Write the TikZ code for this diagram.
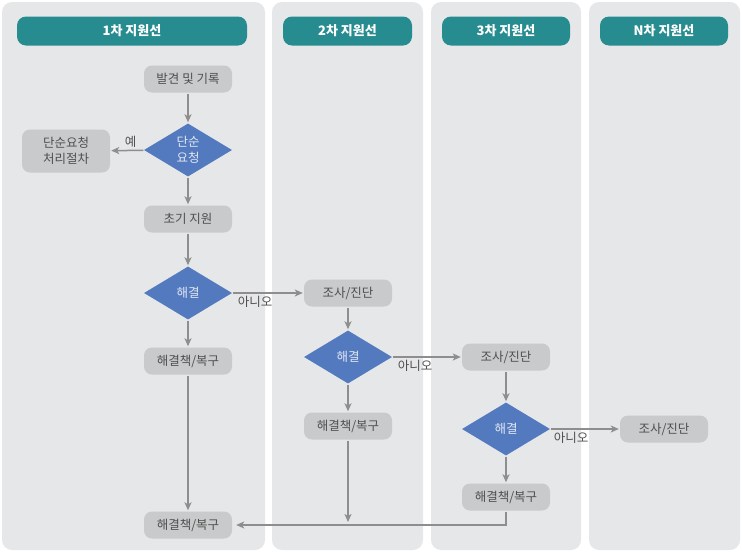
\documentclass[tikz,border=0pt]{standalone}
\usepackage{fontspec}
\setmainfont{Noto Sans CJK KR}
\usetikzlibrary{shapes.geometric,arrows.meta}
\definecolor{lanebg}{HTML}{E6E7E9}
\definecolor{headbg}{HTML}{278C90}
\definecolor{boxbg}{HTML}{C9CACB}
\definecolor{diabg}{HTML}{5379BF}
\definecolor{diatxt}{HTML}{E2E8F3}
\definecolor{txtgray}{HTML}{4F4F4F}
\definecolor{arrowgray}{HTML}{8E8E8E}
\begin{document}
\begin{tikzpicture}[x=1pt,y=-1pt,
    lane/.style={fill=lanebg, rounded corners=10pt},
    head/.style={fill=headbg, text=white, rounded corners=9pt, minimum height=29pt, inner sep=0pt, font=\fontsize{13}{15}\selectfont\bfseries},
    box/.style={fill=boxbg, text=txtgray, rounded corners=8pt, minimum width=88pt, minimum height=27pt, inner sep=0pt, align=center, font=\fontsize{12.5}{16}\selectfont},
    dia/.style={diamond, fill=diabg, text=diatxt, aspect=1.7, minimum width=88pt, minimum height=53pt, inner sep=0pt, align=center, font=\fontsize{12.5}{16}\selectfont},
    lbl/.style={text=txtgray, inner sep=2pt, font=\fontsize{12.5}{15}\selectfont},
    arr/.style={draw=arrowgray, line width=1.5pt, -{Stealth[length=8pt,width=7pt,inset=2pt]}, shorten >=1pt, shorten <=1pt}]
    \useasboundingbox (0,0) rectangle (742,552);

    \fill[lane] (2,2) rectangle (265,550);
    \fill[lane] (272,2) rectangle (423,550);
    \fill[lane] (431,2) rectangle (581,550);
    \fill[lane] (589,2) rectangle (740,550);

    \node[head, minimum width=230pt] (h1) at (132,31) {1차 지원선};
    \node[head, minimum width=129pt] (h2) at (347.5,31) {2차 지원선};
    \node[head, minimum width=128pt] (h3) at (506,31) {3차 지원선};
    \node[head, minimum width=128pt] (h4) at (664,31) {N차 지원선};

    \node[box] (find) at (188,79) {발견 및 기록};
    \node[dia] (simple) at (188,150) {단순\\요청};
    \node[box, minimum height=43pt] (simplebox) at (66,151) {단순요청\\처리절차};
    \node[box] (init) at (188,219) {초기 지원};
    \node[dia] (solve1) at (188,293) {해결};
    \node[box] (fix1) at (188,361) {해결책/복구};
    \node[box] (final) at (188,525) {해결책/복구};

    \node[box] (diag2) at (348,293) {조사/진단};
    \node[dia] (solve2) at (348,357) {해결};
    \node[box] (fix2) at (348,426) {해결책/복구};

    \node[box] (diag3) at (506,357) {조사/진단};
    \node[dia] (solve3) at (506,429) {해결};
    \node[box] (fix3) at (506,497) {해결책/복구};

    \node[box] (diag4) at (664,429) {조사/진단};

    \draw[arr] (find) -- (simple);
    \draw[arr] (simple) -- node[lbl, above, pos=0.4] {예} (simplebox);
    \draw[arr] (simple) -- (init);
    \draw[arr] (init) -- (solve1);
    \draw[arr] (solve1) -- (fix1);
    \draw[arr] (fix1) -- (final);
    \draw[arr] (solve1) -- node[lbl, pos=0, anchor=north west, xshift=3pt] {아니오} (diag2);

    \draw[arr] (diag2) -- (solve2);
    \draw[arr] (solve2) -- (fix2);
    \draw[arr, shorten >=3pt] (fix2) -- (fix2 |- final);
    \draw[arr] (solve2) -- node[lbl, pos=0, anchor=north west, xshift=3pt] {아니오} (diag3);

    \draw[arr] (diag3) -- (solve3);
    \draw[arr] (solve3) -- (fix3);
    \draw[arr, shorten >=4pt] (fix3.south) |- (final.east);
    \draw[arr] (solve3) -- node[lbl, pos=0, anchor=north west, xshift=1pt] {아니오} (diag4);
\end{tikzpicture}
\end{document}
